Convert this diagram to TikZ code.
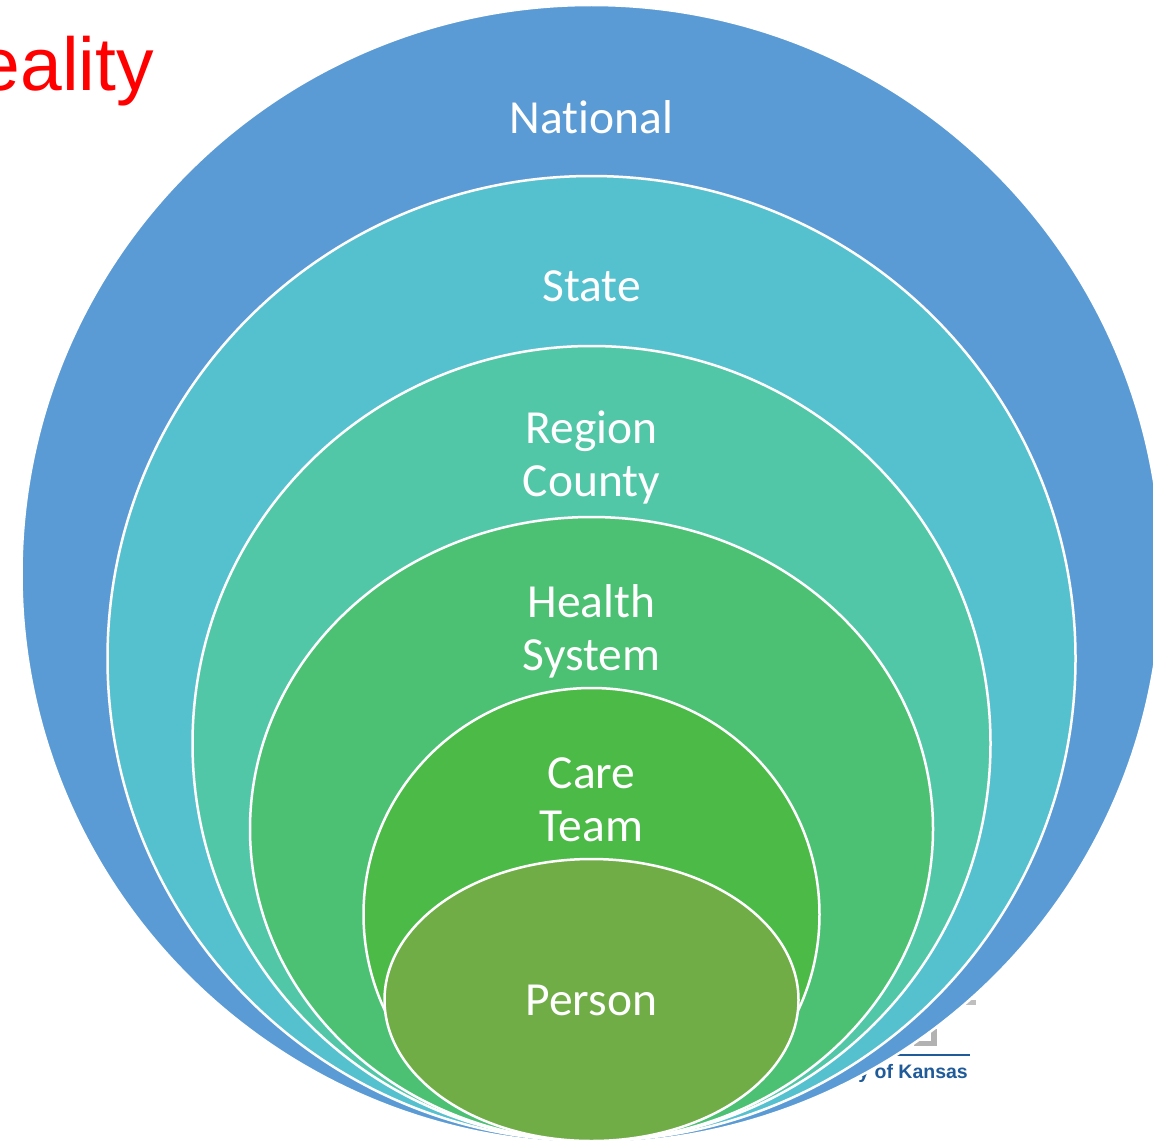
\documentclass[tikz,border=0pt]{standalone}
\usepackage{fontspec}
\setmainfont[Ligatures=NoCommon]{Carlito}
\newfontfamily\arialfont{Liberation Sans}
\usetikzlibrary{shapes.geometric}
\definecolor{nationalblue}{HTML}{5B9BD5}
\definecolor{statecyan}{HTML}{55C1CF}
\definecolor{regionteal}{HTML}{51C7A8}
\definecolor{healthgreen}{HTML}{4CC174}
\definecolor{caregreen}{HTML}{4BBA47}
\definecolor{persongreen}{HTML}{70AD47}
\definecolor{kansasblue}{HTML}{1F5A99}
\begin{document}
\begin{tikzpicture}[x=1pt,y=-1pt,
    level/.style={ellipse,draw=white,line width=2.5pt,inner sep=0pt},
    levellabel/.style={text=white,font=\fontsize{47.5}{53}\selectfont,align=center,inner sep=0pt}]

    \useasboundingbox (0,0) rectangle (1153,1140);
    \clip (0,0) rectangle (1153,1140);

    % logo behind the rings
    \fill[gray!50] (963,1000) rectangle (976,1005);
    \fill[gray!60] (931,1029) rectangle (937,1045);
    \fill[gray!60] (914,1041) rectangle (937,1046);
    \coordinate (logoleft) at (860,1055);
    \coordinate (logoright) at (970,1055);
    \draw[kansasblue,line width=1.3pt] (logoleft) -- (logoright);
    \node (kansas) at (968,1073) [anchor=east,inner sep=0pt,text=kansasblue,font=\arialfont\bfseries\fontsize{19.5}{19.5}\selectfont] {y of Kansas};

    \node (reality) at (154,71) [anchor=east,inner sep=0pt,text=red,font=\arialfont\fontsize{75}{75}\selectfont] {eality};

    \node (national) at (591.5,574) [level,fill=nationalblue,minimum width=1140pt,minimum height=1138pt] {};
    \node (state) at (591.5,658.5) [level,fill=statecyan,minimum width=968pt,minimum height=965pt] {};
    \node (region) at (591.5,743.5) [level,fill=regionteal,minimum width=798pt,minimum height=795pt] {};
    \node (health) at (591.5,829) [level,fill=healthgreen,minimum width=683pt,minimum height=624pt] {};
    \node (care) at (591.5,914.5) [level,fill=caregreen,minimum width=456pt,minimum height=453pt] {};
    \node (person) at (591.5,1000) [level,fill=persongreen,minimum width=414pt,minimum height=282pt] {};

    \node (nationaltext) at (591.5,117) [levellabel] {National};
    \node (statetext) at (591.5,286) [levellabel] {State};
    \node (regiontext) at (591.5,457) [levellabel] {Region\\County};
    \node (healthtext) at (591.5,631) [levellabel] {Health\\System};
    \node (caretext) at (591.5,800) [levellabel] {Care\\Team};
    \node (persontext) at (591.5,1000) [levellabel] {Person};
\end{tikzpicture}
\end{document}
